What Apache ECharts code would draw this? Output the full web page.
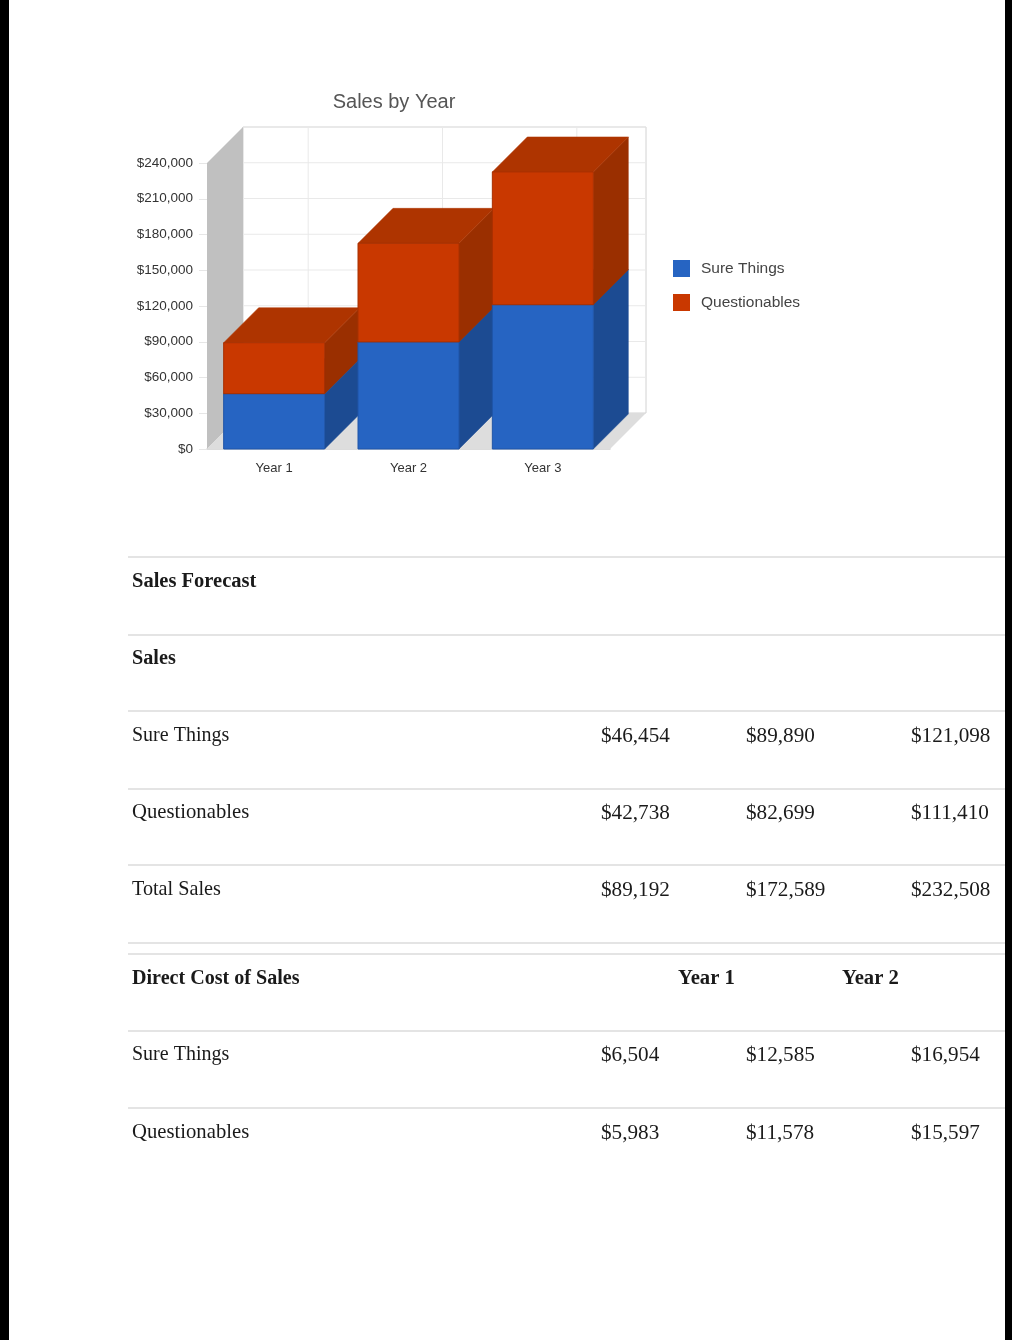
<!DOCTYPE html>
<html><head><meta charset="utf-8">
<style>html,body{margin:0;padding:0;background:#fff}#c{width:1012px;height:1340px}</style>
<script src="https://cdn.jsdelivr.net/npm/echarts@6/dist/echarts.min.js"></script>
</head><body><div id="c"></div>
<script>
var categories = ['Year 1', 'Year 2', 'Year 3'];
var sureThings = [46454, 89890, 121098];
var questionables = [42738, 82699, 111410];
var seriesNames = ['Sure Things', 'Questionables'];
var chartTitle = 'Sales by Year';

var forecastHeading = 'Sales Forecast';
var salesHeading = 'Sales';
var totalLabel = 'Total Sales';
var totalSales = ['$89,192', '$172,589', '$232,508'];
var salesSure = ['$46,454', '$89,890', '$121,098'];
var salesQuest = ['$42,738', '$82,699', '$111,410'];
var costHeading = 'Direct Cost of Sales';
var costYears = ['Year 1', 'Year 2'];
var costSure = ['$6,504', '$12,585', '$16,954'];
var costQuest = ['$5,983', '$11,578', '$15,597'];

var DEPTH = 36, BAR_DEPTH = 35, BAR_W = 101;
var yMax = 240000, yStep = 30000;
var palette = [
  {front:'#2664c2', side:'#1c4b92', top:'#1c4b92', edge:'#1f55a8'},
  {front:'#c93800', side:'#9a2f00', top:'#ae3400', edge:'#a83000'}
];

function bar3d(idx) {
  return function (params, api) {
    var c = palette[idx];
    var cat = api.value(0);
    var lo = api.coord([cat, api.value(1)]);
    var hi = api.coord([cat, api.value(2)]);
    var x0 = lo[0] - BAR_W / 2, x1 = lo[0] + BAR_W / 2, yb = lo[1], yt = hi[1], d = BAR_DEPTH;
    var z = params.dataIndex * 10 + idx * 3 + 10;
    function poly(pts, fill, zz) {
      return {type:'polygon', shape:{points:pts}, z2:zz, style:{fill:fill, stroke:fill, lineWidth:0.5}};
    }
    return {type:'group', children:[
      poly([[x1,yb],[x1+d,yb-d],[x1+d,yt-d],[x1,yt]], c.side, z),
      poly([[x0,yt],[x0+d,yt-d],[x1+d,yt-d],[x1,yt]], c.top, z + 1),
      {type:'rect', shape:{x:x0,y:yt,width:BAR_W,height:yb-yt}, z2:z + 2, style:{fill:c.front, stroke:c.edge, lineWidth:1}}
    ]};
  };
}

function renderWalls(params, api) {
  var r = params.coordSys, x0 = r.x, x1 = r.x + r.width, yt = r.y, yb = r.y + r.height, d = DEPTH;
  var kids = [
    {type:'polygon', shape:{points:[[x0+d,yt-d],[x1+d,yt-d],[x1+d,yb-d],[x0+d,yb-d]]}, z2:0, style:{fill:'#fff', stroke:'#d2d2d2', lineWidth:1}},
    {type:'polygon', shape:{points:[[x0,yt],[x0+d,yt-d],[x0+d,yb-d],[x0,yb]]}, z2:1, style:{fill:'#c0c0c0'}},
    {type:'polygon', shape:{points:[[x0,yb],[x0+d,yb-d],[x1+d,yb-d],[x1,yb]]}, z2:1, style:{fill:'#dddddd'}}
  ];
  for (var v = yStep; v <= yMax; v += yStep) {
    var y = api.coord([0, v])[1] - d;
    kids.push({type:'line', shape:{x1:x0+d,y1:y,x2:x1+d,y2:y}, z2:0, style:{stroke:'#e9e9e9', lineWidth:1}});
  }
  categories.forEach(function (c, i) {
    var x = api.coord([i, 0])[0] + d - 2;
    kids.push({type:'line', shape:{x1:x,y1:yt-d,x2:x,y2:yb-d}, z2:0, style:{stroke:'#e9e9e9', lineWidth:1}});
  });
  return {type:'group', children:kids};
}

var serif = '"Liberation Serif"';
var graphics = [];
var stripes = [[0, 9], [1005, 7]];
stripes.forEach(function (s) {
  graphics.push({type:'rect', shape:{x:s[0], y:0, width:s[1], height:1340}, style:{fill:'#000'}, silent:true});
});
[557, 635, 711, 789, 865, 943, 954, 1031, 1108].forEach(function (y) {
  graphics.push({type:'line', shape:{x1:128, y1:y, x2:1005, y2:y}, style:{stroke:'#e4e4e4', lineWidth:2}, silent:true});
});
function txt(s, x, y, bold, size) {
  graphics.push({type:'text', x:x, y:y + 1, silent:true, style:{text:s, fill:'#1a1a1a', font:(bold?'bold ':'') + (size || 20.4) + 'px ' + serif, textVerticalAlign:'middle', textBaseline:'middle'}});
}
var colX = [601, 746, 911];
function row(label, vals, y, labelSize) {
  txt(label, 132, y, false, labelSize);
  vals.forEach(function (v, i) { txt(v, colX[i], y, false, 21.2); });
}
txt(forecastHeading, 132, 581, true, 20.5);
txt(salesHeading, 132, 658, true, 20.2);
row(seriesNames[0], salesSure, 735, 20);
row(seriesNames[1], salesQuest, 812, 20.7);
row(totalLabel, totalSales, 889, 20.2);
txt(costHeading, 132, 978, true, 20.1);
txt(costYears[0], 678, 978, true, 20.7);
txt(costYears[1], 842, 978, true, 20.7);
row(seriesNames[0], costSure, 1054, 20);
row(seriesNames[1], costQuest, 1132, 20.7);

var chart = echarts.init(document.getElementById('c'), null, {renderer:'canvas'});
chart.setOption({
  animation:false,
  backgroundColor:'#fff',
  title:{text:chartTitle, left:389, top:87, textAlign:'center', textStyle:{fontFamily:'Liberation Sans', fontSize:20, fontWeight:'normal', color:'#555'}},
  legend:{orient:'vertical', left:673, top:258, padding:0, itemWidth:17, itemHeight:17, itemGap:13, icon:'rect', data:seriesNames,
    selectedMode:false,
    formatter:'{a|{name}}',
    textStyle:{padding:[0,0,0,6], rich:{a:{fontFamily:'Liberation Sans', fontSize:15.5, color:'#444', height:21, lineHeight:21, verticalAlign:'bottom'}}}},
  grid:{left:207, top:163, width:403, height:286},
  xAxis:{type:'category', data:categories,
    axisLine:{lineStyle:{color:'#cfcfcf', width:1.5}},
    axisTick:{alignWithLabel:true, length:4, lineStyle:{color:'#d8d8d8'}},
    axisLabel:{margin:13, fontFamily:'Liberation Sans', fontSize:13, color:'#333'}},
  yAxis:{type:'value', min:0, max:yMax, interval:yStep,
    splitLine:{show:false},
    axisLine:{show:false},
    axisTick:{show:true, length:8, lineStyle:{color:'#e6e6e6'}},
    axisLabel:{margin:14, fontFamily:'Liberation Sans', fontSize:13.5, color:'#333',
      formatter:function (v) { return '$' + v.toLocaleString('en-US'); }}},
  series:[
    {type:'custom', name:'walls', silent:true, clip:false, z:1, data:[[0,0]], renderItem:renderWalls, encode:{x:0,y:1}},
    {type:'custom', name:seriesNames[0], silent:true, clip:false, z:2, itemStyle:{color:palette[0].front},
      data:categories.map(function (c, i) { return [i, 0, sureThings[i]]; }),
      encode:{x:0,y:[1,2]}, renderItem:bar3d(0)},
    {type:'custom', name:seriesNames[1], silent:true, clip:false, z:2, itemStyle:{color:palette[1].front},
      data:categories.map(function (c, i) { return [i, sureThings[i], sureThings[i] + questionables[i]]; }),
      encode:{x:0,y:[1,2]}, renderItem:bar3d(1)}
  ],
  graphic:{elements:graphics}
});
</script></body></html>
